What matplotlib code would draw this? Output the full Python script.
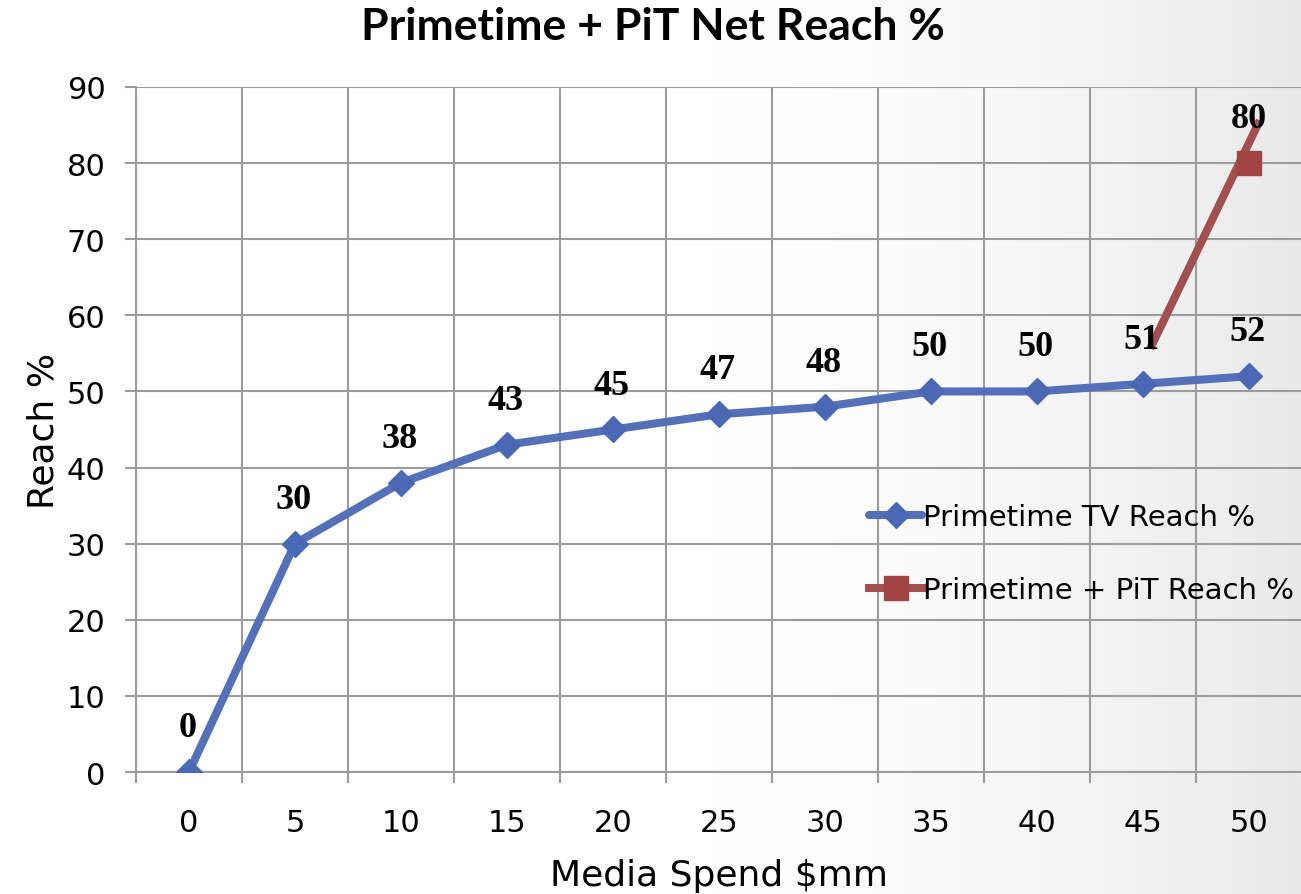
import numpy as np
import matplotlib
matplotlib.use('Agg')
import matplotlib.pyplot as plt
from matplotlib import transforms

# media spend categories ($mm) and reach values
spend = ['0', '5', '10', '15', '20', '25', '30', '35', '40', '45', '50']
tv_reach = [0, 30, 38, 43, 45, 47, 48, 50, 50, 51, 52]
pit_spend_idx = [9, 10]
pit_reach = [51, 80]

plt.rcParams['font.family'] = ['DejaVu Sans']

fig = plt.figure(figsize=(13.01, 8.95), dpi=100)

# light grey shading toward the right edge
bg = fig.add_axes([0, 0, 1, 1], zorder=-10)
xx = np.linspace(0, 1, 1301)
shade = np.clip((xx - 0.55) / 0.45, 0, 1) ** 1.5
row = 1 - 0.085 * shade
img = np.dstack([np.tile(row, (20, 1))] * 3)
bg.imshow(img, aspect='auto', extent=[0, 1, 0, 1], interpolation='bilinear')
bg.axis('off')

ax = fig.add_axes([0.1045, 0.1363, 0.8963, 0.7654])
ax.patch.set_alpha(0)

x = np.arange(len(spend))
blue = '#5470B8'
red = '#A24F4F'

ax.plot(x, tv_reach, color=blue, lw=5.8, marker='D', ms=13,
        mfc='#4A68B4', mec='#4A68B4', solid_capstyle='round',
        label='Primetime TV Reach %', zorder=4)

# the red segment sits a little up/right of its data points
shift = transforms.offset_copy(ax.transData, fig=fig, x=9, y=39, units='dots')
ax.plot(pit_spend_idx, pit_reach, color=red, lw=5.8, transform=shift, zorder=3)
ax.plot(pit_spend_idx[1:], pit_reach[1:], ls='none', marker='s', ms=17,
        mfc='#A04444', mec='#A04444', zorder=5)
ax.plot([], [], color=red, lw=5.8, marker='s', ms=17, mfc='#A04444',
        mec='#A04444', label='Primetime + PiT Reach %')

for xi, v in zip(x, tv_reach):
    ax.annotate(str(v), (xi, v), xytext=(-1, 32), textcoords='offset points',
                ha='center', va='center', fontsize=26, fontweight='bold',
                family='Liberation Serif')
ax.annotate(str(pit_reach[1]), (pit_spend_idx[1], pit_reach[1]), xytext=(0, 32),
            textcoords='offset points', ha='center', va='center', fontsize=26,
            fontweight='bold', family='Liberation Serif')

ax.set_xlim(-0.5, len(spend) - 0.5)
ax.set_ylim(0, 90)
ax.set_yticks(range(0, 91, 10))
ax.set_xticks(x)
ax.set_xticklabels(spend)
ax.set_xticks(np.arange(-0.5, len(spend), 1), minor=True)

grid_c = '#9C9C9C'
ax.grid(True, axis='y', color=grid_c, lw=1.5)
ax.grid(True, axis='x', which='minor', color=grid_c, lw=1.5)
ax.tick_params(axis='x', which='major', length=0, labelsize=22, pad=26)
ax.tick_params(axis='x', which='minor', length=8, width=1.5, color=grid_c)
ax.tick_params(axis='y', length=8, width=1.5, color=grid_c, labelsize=22, pad=14)
for s in ['top', 'right']:
    ax.spines[s].set_visible(False)
ax.spines['left'].set_color(grid_c)
ax.spines['left'].set_linewidth(1.5)
ax.spines['bottom'].set_color(grid_c)
ax.spines['bottom'].set_linewidth(1.5)
ax.set_axisbelow(True)

ax.set_xlabel('Media Spend $mm', fontsize=26, labelpad=15)
ax.set_ylabel('Reach %', fontsize=26, labelpad=4)
fig.text(0.502, 0.97, 'Primetime + PiT Net Reach %', ha='center', va='center',
         fontsize=32, fontweight='bold', family='Lato')

ax.legend(loc='upper left', bbox_to_anchor=(0.619, 0.41), frameon=False,
          fontsize=21, handlelength=1.8, handletextpad=0.05, labelspacing=1.55,
          borderaxespad=0)

fig.savefig('out.png', dpi=100)
